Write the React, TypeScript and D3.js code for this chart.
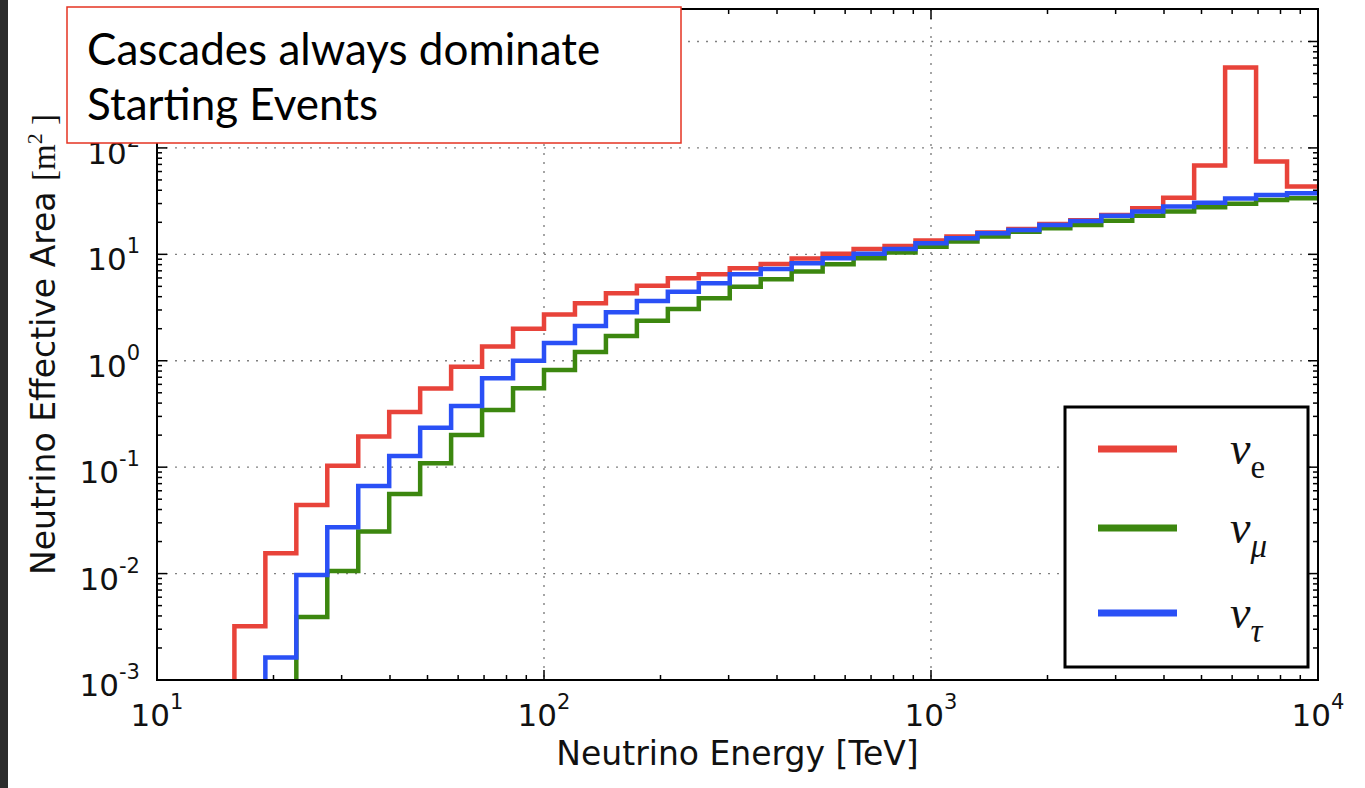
import React from "react";
import * as d3 from "d3";

// log10(E / TeV) bin edges of the histogram
const binEdgesLog: number[] = [
  1.2, 1.28, 1.36, 1.44, 1.52, 1.6, 1.68, 1.76, 1.84, 1.92, 2.0, 2.08, 2.16, 2.24,
  2.32, 2.4, 2.48, 2.56, 2.64, 2.72, 2.8, 2.88, 2.96, 3.04, 3.12, 3.2, 3.28, 3.36,
  3.44, 3.52, 3.6, 3.68, 3.76, 3.84, 3.92, 4.0,
];

// effective area [m^2] per bin (null = below axis)
const nuE: (number | null)[] = [
  0.0032, 0.0155, 0.044, 0.103, 0.194, 0.33, 0.55, 0.88, 1.36, 2.0, 2.72, 3.47, 4.3,
  5.08, 5.96, 6.49, 7.39, 8.12, 9.12, 10.1, 11.2, 12.0, 13.5, 14.7, 16.0, 17.3, 19.3,
  20.9, 23.4, 27.1, 34.1, 68.2, 569, 74.4, 43.3,
];
const nuMu: (number | null)[] = [
  null, null, 0.0039, 0.0106, 0.0248, 0.056, 0.109, 0.201, 0.345, 0.551, 0.82, 1.21,
  1.71, 2.37, 3.07, 3.87, 4.97, 5.83, 6.88, 8.07, 9.18, 10.4, 11.8, 13.2, 14.7, 16.3,
  17.6, 18.9, 20.7, 23.0, 25.2, 27.7, 29.8, 32.4, 33.7,
];
const nuTau: (number | null)[] = [
  null, 0.00163, 0.0097, 0.0272, 0.0665, 0.127, 0.235, 0.376, 0.684, 1.0, 1.47, 2.12,
  2.85, 3.65, 4.46, 5.34, 6.49, 7.29, 8.24, 9.18, 10.1, 11.2, 12.7, 14.2, 15.8, 16.9,
  18.9, 20.6, 23.0, 25.2, 28.1, 30.6, 33.4, 36.2, 37.5,
];

const seriesNames = ["e", "mu", "tau"];
const seriesColors = ["#e8433a", "#3c870f", "#2a50f6"];
const seriesValues = [nuE, nuMu, nuTau];

const xMajorExps = [1, 2, 3, 4];
const yMajorExps = [-3, -2, -1, 0, 1, 2, 3];
const yLabelExps = [-3, -2, -1, 0, 1, 2];
const minorMultipliers = [2, 3, 4, 5, 6, 7, 8, 9];

const annotationLines = ["Cascades always dominate", "Starting Events"];
const xLabel = "Neutrino Energy [TeV]";
const yLabel = "Neutrino Effective Area ";

const W = 1365;
const H = 788;
const L = 157;
const R = 1318;
const T = 9;
const B = 680;

export default function App() {
  const x = d3.scaleLog().domain([10, 1e4]).range([L, R]);
  const y = d3.scaleLog().domain([1e-3, 1e3]).range([B, 41.5]);

  const line = d3
    .line<[number, number]>()
    .x((d) => x(Math.pow(10, d[0])))
    .y((d) => y(d[1]))
    .curve(d3.curveStepAfter);

  const paths = seriesValues.map((vals) => {
    const first = vals.findIndex((v) => v != null);
    const pts: [number, number][] = [];
    pts.push([binEdgesLog[first], 1e-5]);
    for (let i = first; i < vals.length; i++) {
      pts.push([binEdgesLog[i], vals[i] as number]);
    }
    pts.push([binEdgesLog[vals.length], vals[vals.length - 1] as number]);
    return line(pts) || "";
  });

  const xMinor: number[] = [];
  [1, 2, 3].forEach((e) => minorMultipliers.forEach((m) => xMinor.push(m * Math.pow(10, e))));
  const yMinor: number[] = [];
  [-3, -2, -1, 0, 1, 2, 3].forEach((e) =>
    minorMultipliers.forEach((m) => {
      const v = m * Math.pow(10, e);
      if (y(v) > T + 1) yMinor.push(v);
    })
  );

  const tickFont = "DejaVu Sans";
  const majorLen = 10;
  const minorLen = 5;

  const legendRows = [449, 528, 613];
  const subs = ["e", "μ", "τ"];

  return (
    <svg
      width={W}
      height={H}
      style={{ position: "absolute", left: 0, top: 0, background: "#fff" }}
    >
      <rect x={0} y={0} width={W} height={H} fill="#fff" />
      <rect x={0} y={0} width={8} height={H} fill="#2c2c2c" />
      <defs>
        <clipPath id="plotclip">
          <rect x={L} y={T} width={R - L} height={B - T} />
        </clipPath>
      </defs>

      {/* grid */}
      <g stroke="#808080" strokeWidth={1.4} strokeDasharray="2,7">
        {xMajorExps
          .filter((e) => e > 1 && e < 4)
          .map((e) => (
            <line key={"gx" + e} x1={x(Math.pow(10, e))} x2={x(Math.pow(10, e))} y1={T} y2={B} />
          ))}
        {yMajorExps
          .filter((e) => e > -3)
          .map((e) => (
            <line key={"gy" + e} x1={L} x2={R} y1={y(Math.pow(10, e))} y2={y(Math.pow(10, e))} />
          ))}
      </g>

      {/* series */}
      <g clipPath="url(#plotclip)" fill="none" strokeWidth={4.5} strokeLinejoin="miter">
        {paths.map((p, i) => (
          <path key={seriesNames[i]} d={p} stroke={seriesColors[i]} />
        ))}
      </g>

      {/* ticks */}
      <g stroke="#000" strokeWidth={1.5}>
        {xMajorExps.map((e) => {
          const xv = x(Math.pow(10, e));
          return (
            <g key={"xt" + e}>
              <line x1={xv} x2={xv} y1={B} y2={B - majorLen} />
              <line x1={xv} x2={xv} y1={T} y2={T + majorLen} />
            </g>
          );
        })}
        {xMinor.map((v, i) => {
          const xv = x(v);
          return (
            <g key={"xm" + i}>
              <line x1={xv} x2={xv} y1={B} y2={B - minorLen} />
              <line x1={xv} x2={xv} y1={T} y2={T + minorLen} />
            </g>
          );
        })}
        {yMajorExps.map((e) => {
          const yv = y(Math.pow(10, e));
          return (
            <g key={"yt" + e}>
              <line x1={L} x2={L + majorLen} y1={yv} y2={yv} />
              <line x1={R} x2={R - majorLen} y1={yv} y2={yv} />
            </g>
          );
        })}
        {yMinor.map((v, i) => {
          const yv = y(v);
          return (
            <g key={"ym" + i}>
              <line x1={L} x2={L + minorLen} y1={yv} y2={yv} />
              <line x1={R} x2={R - minorLen} y1={yv} y2={yv} />
            </g>
          );
        })}
      </g>

      {/* spines */}
      <rect x={L} y={T} width={R - L} height={B - T} fill="none" stroke="#000" strokeWidth={2} />

      {/* tick labels */}
      <g fontFamily={tickFont} fill="#111">
        {xMajorExps.map((e) => (
          <text key={"xl" + e} x={x(Math.pow(10, e))} y={726} textAnchor="middle" fontSize={31}>
            <tspan>10</tspan>
            <tspan dy={-17} fontSize={21}>
              {String(e)}
            </tspan>
          </text>
        ))}
        {yLabelExps.map((e) => (
          <text key={"yl" + e} x={140} y={y(Math.pow(10, e)) + 16} textAnchor="end" fontSize={31}>
            <tspan>10</tspan>
            <tspan dy={-17} fontSize={21}>
              {String(e)}
            </tspan>
          </text>
        ))}
      </g>

      {/* axis labels */}
      <text x={(L + R) / 2} y={765} textAnchor="middle" fontFamily={tickFont} fontSize={33} fill="#111">
        {xLabel}
      </text>
      <text
        transform={`translate(55,${(T + B) / 2}) rotate(-90)`}
        textAnchor="middle"
        fontSize={33}
        fill="#111"
      >
        <tspan fontFamily={tickFont}>{yLabel}</tspan>
        <tspan fontFamily="Liberation Serif">[m</tspan>
        <tspan fontFamily="Liberation Serif" fontSize={22} dy={-13}>
          2
        </tspan>
        <tspan fontFamily="Liberation Serif" dy={13}>
          {" ]"}
        </tspan>
      </text>

      {/* legend */}
      <rect x={1065} y={407} width={243} height={260} fill="#fff" stroke="#000" strokeWidth={3} />
      {legendRows.map((ly, i) => (
        <g key={"lg" + i}>
          <line x1={1098} x2={1177} y1={ly} y2={ly} stroke={seriesColors[i]} strokeWidth={7} />
          <text x={1230} y={ly + 15} fontFamily="Liberation Serif" fontSize={46} fill="#111">
            <tspan fontStyle="italic">ν</tspan>
            <tspan dy={14} fontSize={33} fontStyle={i === 0 ? "normal" : "italic"}>
              {subs[i]}
            </tspan>
          </text>
        </g>
      ))}

      {/* annotation box */}
      <rect x={67} y={7} width={614} height={136} fill="#fff" stroke="#e53322" strokeWidth={1.5} />
      <text x={87} y={65} fontFamily="Lato" fontSize={44} fill="#000">
        {annotationLines[0]}
      </text>
      <text x={87} y={120} fontFamily="Lato" fontSize={44} fill="#000">
        {annotationLines[1]}
      </text>
    </svg>
  );
}
